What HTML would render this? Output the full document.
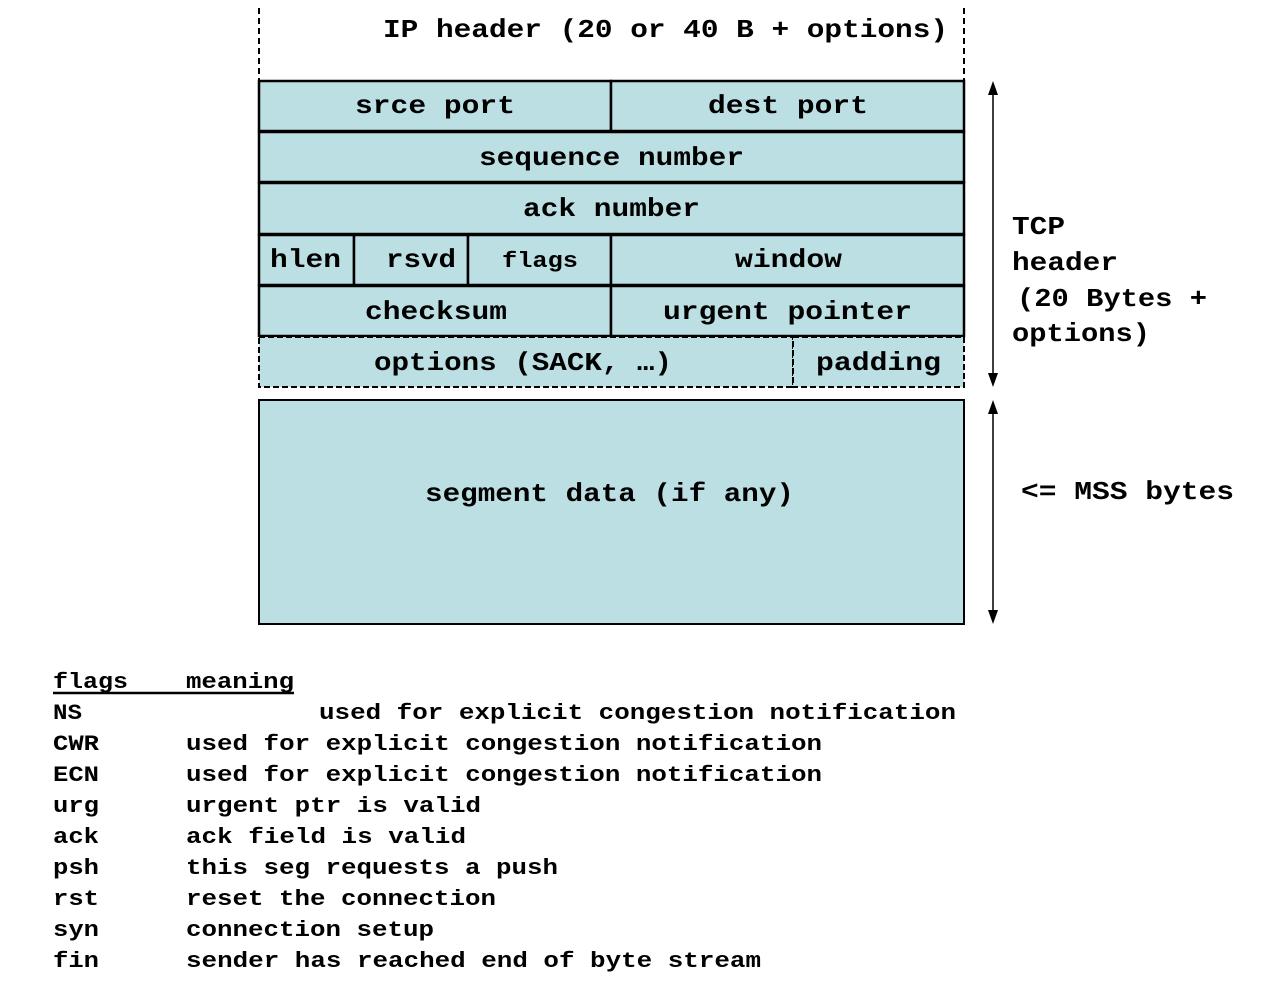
<!DOCTYPE html>
<html><head><meta charset="utf-8"><style>
html,body{margin:0;padding:0;background:#fff;}
svg{display:block;}
text{font-family:"Liberation Mono",monospace;font-weight:bold;fill:#000;}
.c{font-size:26px;}
.l{font-size:22px;}
</style></head><body>
<svg width="1276" height="986" viewBox="0 0 1276 986" xmlns="http://www.w3.org/2000/svg">
<!-- IP header dashed sides -->
<line x1="259" y1="8" x2="259" y2="80" stroke="#000" stroke-width="2" stroke-dasharray="6,4"/>
<line x1="964" y1="8" x2="964" y2="80" stroke="#000" stroke-width="2" stroke-dasharray="6,4"/>
<text class="c" x="383" y="37" textLength="565" lengthAdjust="spacingAndGlyphs">IP header (20 or 40 B + options)</text>
<!-- rows -->
<g fill="#bbdfe3" stroke="#000" stroke-width="2.5">
<rect x="259" y="81" width="352" height="50"/>
<rect x="611" y="81" width="353" height="50"/>
<rect x="259" y="132" width="705" height="50"/>
<rect x="259" y="183" width="705" height="51"/>
<rect x="259" y="235" width="95" height="50"/>
<rect x="354" y="235" width="114" height="50"/>
<rect x="468" y="235" width="143" height="50"/>
<rect x="611" y="235" width="353" height="50"/>
<rect x="259" y="286" width="352" height="50"/>
<rect x="611" y="286" width="353" height="50"/>
</g>
<g fill="#bbdfe3" stroke="#000" stroke-width="2" stroke-dasharray="6,3">
<rect x="259" y="337" width="534" height="50"/>
<rect x="793" y="337" width="171" height="50"/>
</g>
<rect x="259" y="400" width="705" height="224" fill="#bbdfe3" stroke="#000" stroke-width="2"/>
<!-- cell text -->
<text class="c" x="355" y="113" textLength="160" lengthAdjust="spacingAndGlyphs">srce port</text>
<text class="c" x="708" y="113" textLength="160" lengthAdjust="spacingAndGlyphs">dest port</text>
<text class="c" x="479" y="165" textLength="265" lengthAdjust="spacingAndGlyphs">sequence number</text>
<text class="c" x="523" y="216" textLength="177" lengthAdjust="spacingAndGlyphs">ack number</text>
<text class="c" x="270" y="267" textLength="71" lengthAdjust="spacingAndGlyphs">hlen</text>
<text class="c" x="386" y="267" textLength="70" lengthAdjust="spacingAndGlyphs">rsvd</text>
<text class="l" x="502" y="267" textLength="76" lengthAdjust="spacingAndGlyphs">flags</text>
<text class="c" x="735" y="267" textLength="107" lengthAdjust="spacingAndGlyphs">window</text>
<text class="c" x="365" y="319" textLength="142" lengthAdjust="spacingAndGlyphs">checksum</text>
<text class="c" x="663" y="319" textLength="249" lengthAdjust="spacingAndGlyphs">urgent pointer</text>
<text class="c" x="374" y="370" textLength="298" lengthAdjust="spacingAndGlyphs">options (SACK, …)</text>
<text class="c" x="816" y="370" textLength="125" lengthAdjust="spacingAndGlyphs">padding</text>
<text class="c" x="425" y="501" textLength="369" lengthAdjust="spacingAndGlyphs">segment data (if any)</text>
<!-- arrows -->
<line x1="993" y1="90" x2="993" y2="378" stroke="#000" stroke-width="1.5"/>
<polygon points="988,95 993,81 998,95" fill="#000"/>
<polygon points="988,373 993,387 998,373" fill="#000"/>
<line x1="993" y1="408" x2="993" y2="616" stroke="#000" stroke-width="1.5"/>
<polygon points="988,414 993,400 998,414" fill="#000"/>
<polygon points="988,610 993,624 998,610" fill="#000"/>
<text class="c" x="1012" y="234" textLength="53" lengthAdjust="spacingAndGlyphs">TCP</text>
<text class="c" x="1012" y="270" textLength="106" lengthAdjust="spacingAndGlyphs">header</text>
<text class="c" x="1017" y="306" textLength="190" lengthAdjust="spacingAndGlyphs">(20 Bytes +</text>
<text class="c" x="1012" y="341" textLength="138" lengthAdjust="spacingAndGlyphs">options)</text>
<text class="c" x="1021" y="499" textLength="213" lengthAdjust="spacingAndGlyphs">&lt;= MSS bytes</text>
<!-- legend -->
<line x1="53" y1="693" x2="294" y2="693" stroke="#000" stroke-width="2.5"/>
<text class="l" x="53" y="688" textLength="75" lengthAdjust="spacingAndGlyphs">flags</text>
<text class="l" x="186" y="688" textLength="108" lengthAdjust="spacingAndGlyphs">meaning</text>
<text class="l" x="53" y="719" textLength="29" lengthAdjust="spacingAndGlyphs">NS</text>
<text class="l" x="319" y="719" textLength="637" lengthAdjust="spacingAndGlyphs">used for explicit congestion notification</text>
<text class="l" x="53" y="750" textLength="46" lengthAdjust="spacingAndGlyphs">CWR</text>
<text class="l" x="186" y="750" textLength="636" lengthAdjust="spacingAndGlyphs">used for explicit congestion notification</text>
<text class="l" x="53" y="781" textLength="46" lengthAdjust="spacingAndGlyphs">ECN</text>
<text class="l" x="186" y="781" textLength="636" lengthAdjust="spacingAndGlyphs">used for explicit congestion notification</text>
<text class="l" x="53" y="812" textLength="46" lengthAdjust="spacingAndGlyphs">urg</text>
<text class="l" x="186" y="812" textLength="295" lengthAdjust="spacingAndGlyphs">urgent ptr is valid</text>
<text class="l" x="53" y="843" textLength="46" lengthAdjust="spacingAndGlyphs">ack</text>
<text class="l" x="186" y="843" textLength="280" lengthAdjust="spacingAndGlyphs">ack field is valid</text>
<text class="l" x="53" y="874" textLength="46" lengthAdjust="spacingAndGlyphs">psh</text>
<text class="l" x="186" y="874" textLength="372" lengthAdjust="spacingAndGlyphs">this seg requests a push</text>
<text class="l" x="53" y="905" textLength="46" lengthAdjust="spacingAndGlyphs">rst</text>
<text class="l" x="186" y="905" textLength="310" lengthAdjust="spacingAndGlyphs">reset the connection</text>
<text class="l" x="53" y="936" textLength="46" lengthAdjust="spacingAndGlyphs">syn</text>
<text class="l" x="186" y="936" textLength="248" lengthAdjust="spacingAndGlyphs">connection setup</text>
<text class="l" x="53" y="967" textLength="46" lengthAdjust="spacingAndGlyphs">fin</text>
<text class="l" x="186" y="967" textLength="575" lengthAdjust="spacingAndGlyphs">sender has reached end of byte stream</text>
</svg>
</body></html>
